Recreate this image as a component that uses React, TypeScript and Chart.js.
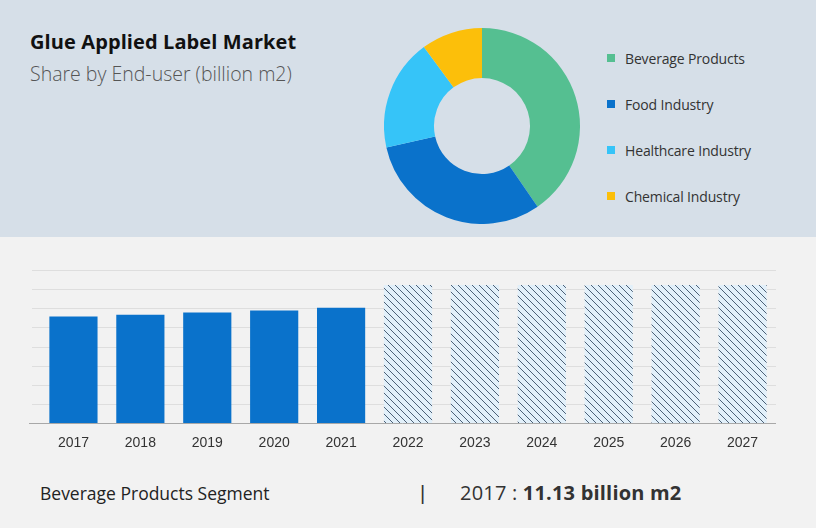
import React, { useEffect, useRef } from "react";
import { Chart, registerables } from "chart.js";

Chart.register(...registerables);

const segments = ["Beverage Products", "Food Industry", "Healthcare Industry", "Chemical Industry"];
const shares = [40.4, 31.1, 18.4, 10.1];
const segmentColors = ["#55bf91", "#0a72cb", "#36c4f8", "#fcbf0a"];

const years = ["2017", "2018", "2019", "2020", "2021", "2022", "2023", "2024", "2025", "2026", "2027"];
const actualValues = [11.13, 11.31, 11.55, 11.76, 12.04, null, null, null, null, null, null];
const forecastValues = [null, null, null, null, null, 14.44, 14.44, 14.44, 14.44, 14.44, 14.44];

const FONT = "'Open Sans', 'Noto Sans', sans-serif";

function makeHatch(): CanvasPattern | string {
  const size = 7;
  const c = document.createElement("canvas");
  c.width = size;
  c.height = size;
  const ctx = c.getContext("2d");
  if (!ctx) return "#e3f0fa";
  ctx.fillStyle = "#e2f0fa";
  ctx.fillRect(0, 0, size, size);
  ctx.strokeStyle = "#3c5068";
  ctx.lineWidth = 0.9;
  ctx.beginPath();
  ctx.moveTo(-1, -1);
  ctx.lineTo(size + 1, size + 1);
  ctx.moveTo(-1, size - 1);
  ctx.lineTo(1, size + 1);
  ctx.moveTo(size - 1, -1);
  ctx.lineTo(size + 1, 1);
  ctx.stroke();
  return ctx.createPattern(c, "repeat") || "#e3f0fa";
}

const gridPlugin = {
  id: "wideGrid",
  beforeDatasetsDraw(chart: any) {
    const { ctx, scales } = chart;
    const y = scales.y;
    const area = chart.chartArea;
    ctx.save();
    ctx.lineWidth = 1;
    ctx.strokeStyle = "#dedede";
    y.ticks.forEach((t: any) => {
      if (t.value === 0) return;
      const py = Math.round(y.getPixelForValue(t.value)) + 0.5;
      ctx.beginPath();
      ctx.moveTo(area.left - 8, py);
      ctx.lineTo(area.right, py);
      ctx.stroke();
    });
    const by = Math.round(y.getPixelForValue(0)) + 0.5;
    ctx.strokeStyle = "#a8a8a8";
    ctx.beginPath();
    ctx.moveTo(area.left - 11, by);
    ctx.lineTo(area.right, by);
    ctx.stroke();
    ctx.restore();
  },
};

export default function App() {
  const donutRef = useRef<HTMLCanvasElement>(null);
  const barRef = useRef<HTMLCanvasElement>(null);

  useEffect(() => {
    const donut = new Chart(donutRef.current!, {
      type: "doughnut",
      data: {
        labels: segments,
        datasets: [
          {
            data: shares,
            backgroundColor: segmentColors,
            borderWidth: 0,
          },
        ],
      },
      options: {
        animation: false,
        responsive: false,
        cutout: "49%",
        layout: { padding: 0 },
        plugins: { legend: { display: false }, tooltip: { enabled: false } },
      },
    });

    const hatch = makeHatch();
    const bar = new Chart(barRef.current!, {
      type: "bar",
      data: {
        labels: years,
        datasets: [
          {
            data: actualValues,
            backgroundColor: "#0a72cb",
            borderWidth: 0,
            barPercentage: 0.72,
            categoryPercentage: 1,
          } as any,
          {
            data: forecastValues,
            backgroundColor: hatch as any,
            borderWidth: 0,
            barPercentage: 0.72,
            categoryPercentage: 1,
          } as any,
        ],
      },
      options: {
        animation: false,
        responsive: false,
        layout: { padding: { left: 40, right: 40, top: 30, bottom: 0 } },
        plugins: { legend: { display: false }, tooltip: { enabled: false } },
        scales: {
          x: {
            stacked: true,
            grid: { display: false },
            border: { display: false },
            ticks: {
              color: "#333333",
              font: { family: "'Liberation Sans', Arial, sans-serif", size: 14 },
              padding: 4,
            },
            afterFit: (s: any) => {
              s.height = 37;
            },
          },
          y: {
            stacked: true,
            min: 0,
            max: 16,
            ticks: { display: false, stepSize: 2 },
            grid: { display: false },
            border: { display: false },
            afterFit: (s: any) => {
              s.width = 0;
            },
          },
        },
      },
      plugins: [gridPlugin],
    });

    return () => {
      donut.destroy();
      bar.destroy();
    };
  }, []);

  return (
    <div
      style={{
        position: "fixed",
        left: 0,
        top: 0,
        width: 816,
        height: 528,
        background: "#f2f2f2",
        fontFamily: FONT,
        overflow: "hidden",
      }}
    >
      <div
        style={{
          position: "absolute",
          left: 0,
          top: 0,
          width: 816,
          height: 237,
          background: "#d6dfe8",
        }}
      />
      <div
        style={{
          position: "absolute",
          left: 30,
          top: 27,
          fontSize: 20,
          lineHeight: "30px",
          fontWeight: 700,
          color: "#111",
          whiteSpace: "nowrap",
          letterSpacing: 0.1,
        }}
      >
        Glue Applied Label Market
      </div>
      <div
        style={{
          position: "absolute",
          left: 30,
          top: 60,
          fontSize: 19.5,
          lineHeight: "28px",
          fontWeight: 300,
          color: "#555",
          whiteSpace: "nowrap",
        }}
      >
        Share by End-user (billion m2)
      </div>
      <canvas
        ref={donutRef}
        width={196}
        height={196}
        style={{ position: "absolute", left: 384, top: 28, width: 196, height: 196 }}
      />
      {segments.map((s, i) => (
        <div
          key={s}
          style={{
            position: "absolute",
            left: 607,
            top: [48, 94, 140, 186][i],
            height: 20,
            display: "flex",
            alignItems: "center",
            whiteSpace: "nowrap",
          }}
        >
          <span
            style={{
              display: "inline-block",
              width: 8,
              height: 8,
              background: segmentColors[i],
              marginRight: 10,
            }}
          />
          <span style={{ fontSize: 14, color: "#333", letterSpacing: -0.15 }}>{s}</span>
        </div>
      ))}
      <canvas
        ref={barRef}
        width={816}
        height={220}
        style={{ position: "absolute", left: 0, top: 240, width: 816, height: 220 }}
      />
      <div
        style={{
          position: "absolute",
          left: 40,
          top: 480,
          fontSize: 17.5,
          lineHeight: "26px",
          color: "#222",
          whiteSpace: "nowrap",
        }}
      >
        Beverage Products Segment
      </div>
      <div
        style={{
          position: "absolute",
          left: 420,
          top: 479,
          fontSize: 20,
          lineHeight: "28px",
          color: "#333",
          fontFamily: "'Liberation Sans', Arial, sans-serif",
        }}
      >
        |
      </div>
      <div
        style={{
          position: "absolute",
          left: 460,
          top: 479,
          fontSize: 20,
          lineHeight: "28px",
          color: "#333",
          whiteSpace: "nowrap",
          letterSpacing: 0.2,
        }}
      >
        2017 : <span style={{ fontWeight: 700 }}>11.13 billion m2</span>
      </div>
    </div>
  );
}
